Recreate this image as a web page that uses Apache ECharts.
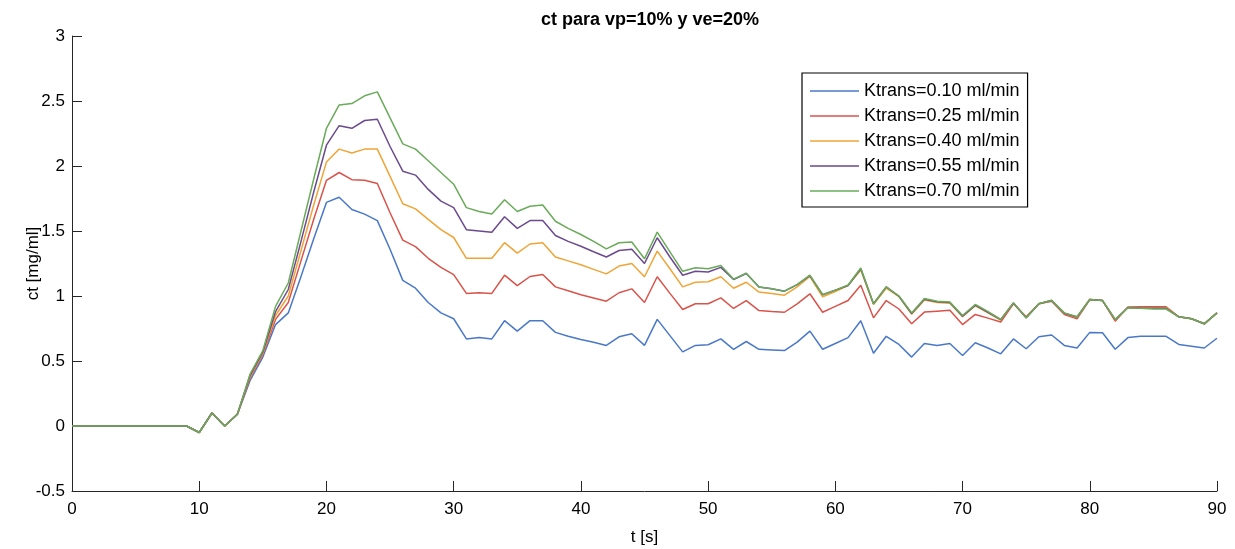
<!DOCTYPE html>
<html>
<head>
<meta charset="utf-8">
<script src="https://cdn.jsdelivr.net/npm/echarts@6/dist/echarts.min.js"></script>
<style>html,body{margin:0;padding:0;background:#fff;}#c{width:1235px;height:549px;}</style>
</head>
<body>
<div id="c"></div>
<script>
const titleText = "ct para vp=10% y ve=20%";
const xName = "t [s]";
const yName = "ct [mg/ml]";
const seriesNames = ["Ktrans=0.10 ml/min","Ktrans=0.25 ml/min","Ktrans=0.40 ml/min","Ktrans=0.55 ml/min","Ktrans=0.70 ml/min"];
const seriesColors = ["#4a78c8","#d9534a","#f0a436","#6b4a8e","#6aab5a"];

const t = [0,1,2,3,4,5,6,7,8,9,10,11,12,13,14,15,16,17,18,19,20,21,22,23,24,25,26,27,28,29,30,31,32,33,34,35,36,37,38,39,40,41,42,43,44,45,46,47,48,49,50,51,52,53,54,55,56,57,58,59,60,61,62,63,64,65,66,67,68,69,70,71,72,73,74,75,76,77,78,79,80,81,82,83,84,85,86,87,88,89,90];

const k010 = [0,0,0,0,0,0,0,0,0,0,-0.05,0.1,0,0.09,0.35,0.53,0.78,0.87,1.15,1.44,
1.72,1.76,1.665,1.63,1.58,1.36,1.12,1.06,0.95,0.87,
0.825,0.67,0.68,0.67,0.81,0.73,0.81,0.81,0.72,0.69,
0.665,0.645,0.62,0.686,0.71,0.62,0.82,0.695,0.57,0.62,
0.625,0.67,0.59,0.65,0.59,0.585,0.58,0.645,0.73,0.59,
0.635,0.68,0.81,0.56,0.69,0.627,0.53,0.635,0.62,0.635,
0.542,0.64,0.60,0.555,0.67,0.594,0.686,0.70,0.62,0.60,
0.72,0.717,0.59,0.68,0.69,0.69,0.69,0.627,0.614,0.60,0.675];

const k025 = [0,0,0,0,0,0,0,0,0,0,-0.05,0.1,0,0.09,0.37,0.55,0.82,0.95,1.27,1.59,
1.89,1.95,1.895,1.89,1.865,1.64,1.43,1.38,1.29,1.22,
1.165,1.02,1.025,1.02,1.16,1.08,1.15,1.165,1.07,1.04,
1.01,0.985,0.96,1.025,1.055,0.95,1.148,1.02,0.896,0.94,
0.94,0.986,0.904,0.965,0.888,0.88,0.875,0.94,1.017,0.875,
0.92,0.965,1.083,0.832,0.965,0.90,0.786,0.876,0.883,0.89,
0.78,0.858,0.83,0.80,0.94,0.84,0.94,0.96,0.858,0.825,
0.973,0.965,0.806,0.915,0.917,0.917,0.917,0.84,0.825,0.786,0.87];

const k040 = [0,0,0,0,0,0,0,0,0,0,-0.05,0.1,0,0.09,0.38,0.56,0.85,1.0,1.35,1.70,
2.03,2.13,2.10,2.13,2.13,1.92,1.71,1.67,1.59,1.51,
1.45,1.29,1.29,1.29,1.41,1.33,1.40,1.41,1.30,1.27,
1.24,1.205,1.17,1.23,1.25,1.148,1.345,1.21,1.07,1.106,
1.11,1.148,1.06,1.106,1.03,1.02,1.006,1.07,1.15,0.994,
1.035,1.08,1.20,0.935,1.06,0.995,0.86,0.97,0.95,0.945,
0.84,0.925,0.87,0.815,0.945,0.835,0.94,0.965,0.865,0.835,
0.973,0.965,0.815,0.912,0.91,0.91,0.91,0.84,0.825,0.786,0.87];

const k055 = [0,0,0,0,0,0,0,0,0,0,-0.05,0.1,0,0.09,0.39,0.57,0.88,1.05,1.42,1.80,
2.16,2.31,2.29,2.35,2.36,2.15,1.96,1.93,1.82,1.73,
1.68,1.51,1.50,1.49,1.61,1.52,1.58,1.58,1.465,1.42,
1.383,1.34,1.30,1.35,1.36,1.25,1.448,1.30,1.16,1.19,
1.185,1.22,1.127,1.173,1.07,1.055,1.037,1.088,1.157,1.01,
1.045,1.08,1.21,0.94,1.07,0.998,0.865,0.975,0.955,0.95,
0.845,0.93,0.875,0.818,0.946,0.832,0.94,0.966,0.868,0.838,
0.973,0.965,0.818,0.911,0.907,0.905,0.905,0.84,0.825,0.786,0.87];

const k070 = [0,0,0,0,0,0,0,0,0,0,-0.05,0.1,0,0.09,0.40,0.58,0.92,1.10,1.50,1.90,
2.29,2.47,2.48,2.54,2.57,2.37,2.17,2.13,2.04,1.95,
1.86,1.68,1.65,1.63,1.74,1.65,1.69,1.70,1.575,1.52,
1.473,1.42,1.363,1.41,1.415,1.286,1.491,1.34,1.19,1.217,
1.21,1.235,1.13,1.175,1.07,1.055,1.037,1.088,1.16,1.01,
1.045,1.085,1.215,0.94,1.07,1.0,0.87,0.98,0.96,0.953,
0.85,0.935,0.88,0.82,0.947,0.83,0.94,0.967,0.87,0.84,
0.973,0.965,0.82,0.91,0.905,0.9,0.9,0.84,0.825,0.786,0.87];

const seriesValues = [k010,k025,k040,k055,k070];

const chart = echarts.init(document.getElementById('c'), null, {renderer:'canvas'});
const FONT = 'Liberation Sans, Arial, sans-serif';
const axisCol = '#262626';

const series = seriesNames.map((name, i) => ({
  name: name,
  type: 'line',
  data: t.map((x, j) => [x, seriesValues[i][j]]),
  symbol: 'none',
  showSymbol: false,
  lineStyle: {color: seriesColors[i], width: 1.5},
  itemStyle: {color: seriesColors[i]},
  animation: false,
  z: 2 + i
}));

chart.setOption({
  backgroundColor: '#fff',
  animation: false,
  title: {
    text: titleText,
    left: 645, top: 6, textAlign: 'center',
    textStyle: {fontFamily: FONT, fontSize: 18, fontWeight: 'bold', color: '#000'}
  },
  legend: {
    orient: 'vertical',
    left: 802, top: 73,
    padding: [8, 8, 6, 8],
    itemWidth: 49, itemHeight: 14, itemGap: 5,
    backgroundColor: '#fff',
    borderColor: '#000', borderWidth: 1.2,
    textStyle: {fontFamily: FONT, fontSize: 18, color: '#000', lineHeight: 20},
    data: seriesNames.map((n, i) => ({name: n, icon: 'path://M0,0 L100,0 L100,3 L0,3 Z', itemStyle:{color: seriesColors[i]}}))
  },
  grid: {left: 72, right: 18, top: 36, bottom: 58, containLabel: false, outerBoundsMode: 'none'},
  xAxis: {
    type: 'value', min: 0, max: 90, interval: 10,
    name: xName, nameLocation: 'middle', nameGap: 38, nameMoveOverlap: false,
    nameTextStyle: {fontFamily: FONT, fontSize: 17, color: '#000'},
    axisLine: {show: true, onZero: false, lineStyle: {color: axisCol, width: 1}},
    axisTick: {show: true, inside: true, length: 10, lineStyle: {color: axisCol}},
    axisLabel: {fontFamily: FONT, fontSize: 17, color: '#000', margin: 10},
    splitLine: {show: false}
  },
  yAxis: {
    type: 'value', min: -0.5, max: 3, interval: 0.5,
    name: yName, nameLocation: 'middle', nameGap: 30, nameRotate: 90, nameMoveOverlap: false,
    nameTextStyle: {fontFamily: FONT, fontSize: 17, color: '#000'},
    axisLine: {show: true, onZero: false, lineStyle: {color: axisCol, width: 1}},
    axisTick: {show: true, inside: true, length: 10, lineStyle: {color: axisCol}},
    axisLabel: {fontFamily: FONT, fontSize: 17, color: '#000', margin: 7},
    splitLine: {show: false}
  },
  series: series
});
</script>
</body>
</html>
